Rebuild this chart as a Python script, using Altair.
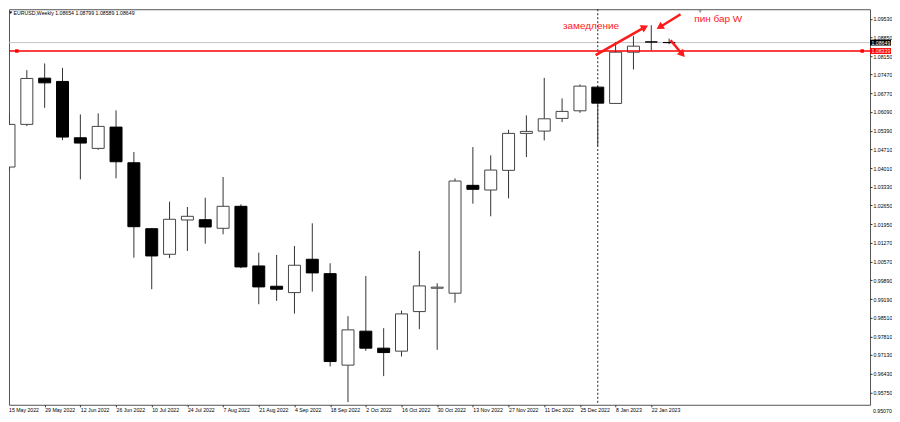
import json
import altair as alt
import pandas as pd

# ---- data ----
weeks = ["15 May 2022", "22 May 2022", "29 May 2022", "5 Jun 2022", "12 Jun 2022", "19 Jun 2022",
         "26 Jun 2022", "3 Jul 2022", "10 Jul 2022", "17 Jul 2022", "24 Jul 2022", "31 Jul 2022",
         "7 Aug 2022", "14 Aug 2022", "21 Aug 2022", "28 Aug 2022", "4 Sep 2022", "11 Sep 2022",
         "18 Sep 2022", "25 Sep 2022", "2 Oct 2022", "9 Oct 2022", "16 Oct 2022", "23 Oct 2022",
         "30 Oct 2022", "6 Nov 2022", "13 Nov 2022", "20 Nov 2022", "27 Nov 2022", "4 Dec 2022",
         "11 Dec 2022", "18 Dec 2022", "25 Dec 2022", "1 Jan 2023", "8 Jan 2023", "15 Jan 2023",
         "22 Jan 2023", "29 Jan 2023"]
opens = [1.04060, 1.05633, 1.07338, 1.07217, 1.05139, 1.04748, 1.05533, 1.04218, 1.01786, 1.00843,
         1.02107, 1.02118, 1.01801, 1.02612, 1.00412, 0.99664, 0.99429, 1.00659, 1.00129, 0.96754,
         0.98007, 0.97380, 0.97270, 0.98729, 0.99590, 0.99407, 1.03385, 1.03212, 1.03938, 1.05301,
         1.05386, 1.05854, 1.06134, 1.07007, 1.06406, 1.08296, 1.08676, 1.08654]
highs = [1.06060, 1.07633, 1.07880, 1.07718, 1.06001, 1.06038, 1.06148, 1.04612, 1.01812, 1.02781,
         1.02586, 1.02929, 1.03691, 1.02685, 1.00902, 1.00818, 1.01149, 1.01985, 1.00512, 0.98559,
         1.00044, 0.98117, 0.98765, 1.00965, 0.99775, 1.03643, 1.04796, 1.04491, 1.05434, 1.05964,
         1.07349, 1.06590, 1.07106, 1.07044, 1.08676, 1.08886, 1.09291, 1.08799]
lows = [1.03912, 1.05570, 1.06244, 1.05054, 1.03606, 1.04697, 1.03643, 1.00718, 0.99554, 1.00700,
        1.00965, 1.01234, 1.01580, 1.00328, 0.99001, 0.99123, 0.98655, 0.99466, 0.96703, 0.95391,
        0.97281, 0.96349, 0.97071, 0.98080, 0.97318, 0.99060, 1.02708, 1.02243, 1.02906, 1.04428,
        1.05043, 1.05717, 1.06060, 1.04833, 1.06400, 1.07659, 1.08359, 1.08589]
closes = [1.05633, 1.07327, 1.07165, 1.05165, 1.04944, 1.05559, 1.04255, 1.01860, 1.00781, 1.02133,
          1.02243, 1.01849, 1.02612, 1.00376, 0.99639, 0.99554, 1.00438, 1.00155, 0.96887, 0.98055,
          0.97380, 0.97218, 0.98644, 0.99675, 0.99630, 1.03544, 1.03238, 1.03949, 1.05301, 1.05375,
          1.05839, 1.06112, 1.07044, 1.06417, 1.08296, 1.08517, 1.08670, 1.08649]

x_labels = weeks[::2][:19]
price_ticks = [1.09530, 1.08850, 1.08150, 1.07470, 1.06770, 1.06090, 1.05390, 1.04710, 1.04010,
               1.03330, 1.02650, 1.01950, 1.01270, 1.00570, 0.99890, 0.99190, 0.98510, 0.97810,
               0.97130, 0.96430, 0.95750, 0.95070]

bid_price = 1.08649
level_price = 1.08339
separator_week = 33
header = "EURUSD,Weekly  1.08654 1.08799 1.08589 1.08649"

# annotations (week index / price)
arrow_x = [32.88, 37.64, 37.08]
arrow_y = [1.08186, 1.09696, 1.08738]
arrow_x2 = [35.64, 36.47, 37.74]
arrow_y2 = [1.09217, 1.09217, 1.08222]
arrow_angle = [61, 238, 139]
note_text = ["замедление", "пин бар W"]
note_x = [31.05, 38.41]
note_y = [1.09254, 1.09512]

df = pd.DataFrame({"i": list(range(len(weeks))), "week": weeks, "open": opens,
                   "high": highs, "low": lows, "close": closes})
arrows = pd.DataFrame({"x": arrow_x, "y": arrow_y, "x2": arrow_x2, "y2": arrow_y2, "angle": arrow_angle})
notes = pd.DataFrame({"x": note_x, "y": note_y, "t": note_text})
levels = pd.DataFrame({"p": [bid_price, level_price], "label": [f"{bid_price:.5f}", f"{level_price:.5f}"],
                       "bg": ["black", "red"], "fg": ["white", "#ffe6e6"]})

FONT = "Liberation Sans"
FS = 5.2
W, H = 862, 396
X_DOMAIN = [0.2806, 47.98]
XS = alt.Scale(domain=X_DOMAIN, nice=False, zero=False)
YS = alt.Scale(domain=[0.95292, 1.09880], nice=False, zero=False)
label_expr = json.dumps(x_labels) + "[round(datum.value / 2)]"
XAX = alt.Axis(values=list(range(2, 38, 2)), labelExpr=label_expr, title=None)
YAX = alt.Axis(values=price_ticks[:-1], format=".5f", title=None, orient="right")


def X(f):
    return alt.X(f, type="quantitative", scale=XS, axis=XAX)


def Y(f):
    return alt.Y(f, type="quantitative", scale=YS, axis=YAX)


base = alt.Chart(df)

wicks = base.mark_rule(color="#333", strokeWidth=1, clip=True).encode(x=X("i"), y=Y("low"), y2="high")
bodies = base.mark_bar(size=12, strokeWidth=1, clip=True).encode(
    x=X("i"), y=Y("open"), y2="close",
    fill=alt.condition("datum.close >= datum.open", alt.value("white"), alt.value("black")),
    stroke=alt.condition("datum.close >= datum.open", alt.value("#444"), alt.value("black")),
)

# first label (15 May 2022) sits on the partly hidden first candle
first_lbl = alt.Chart(pd.DataFrame({"t": [weeks[0]]})).mark_text(
    align="left", baseline="top", fontSize=FS, font=FONT, color="black").encode(
    x=alt.value(0), y=alt.value(H + 3), text="t")
# lowest price label sits just below the frame
low_lbl = alt.Chart(pd.DataFrame({"p": [price_ticks[-1]], "t": [f"{price_ticks[-1]:.5f}"]})).mark_text(
    align="left", baseline="middle", fontSize=FS, font=FONT, color="black").encode(
    x=alt.value(W + 3), y=Y("p"), text="t")

bid_line = alt.Chart(levels.iloc[[0]]).mark_rule(color="#c4c4c4", strokeWidth=1).encode(y=Y("p"))
red_line = alt.Chart(levels.iloc[[1]]).mark_rule(color="#ff0000", strokeWidth=1.5).encode(y=Y("p"))
red_handles = alt.Chart(pd.DataFrame({"x": [X_DOMAIN[0] + 0.16, X_DOMAIN[1] - 0.16], "p": [level_price] * 2})).mark_point(
    shape="square", filled=True, color="#ff0000", size=12, opacity=1).encode(x=X("x"), y=Y("p"))
sep = alt.Chart(pd.DataFrame({"i": [separator_week]})).mark_rule(
    color="#222", strokeWidth=1, strokeDash=[2, 2]).encode(x=X("i"))

arrow_lines = alt.Chart(arrows).mark_rule(color="#ff1a1a", strokeWidth=2.5).encode(
    x=X("x"), y=Y("y"), x2="x2", y2="y2")
arrow_heads = alt.Chart(arrows).mark_point(shape="triangle-up", filled=True, color="#ff1a1a", size=70, opacity=1).encode(
    x=X("x2"), y=Y("y2"), angle=alt.Angle("angle:Q", scale=None))
note_marks = alt.Chart(notes).mark_text(align="left", baseline="middle", color="#ff1a1a", fontSize=10, font=FONT).encode(
    x=X("x"), y=Y("y"), text="t")

head_txt = alt.Chart(pd.DataFrame({"t": [header]})).mark_text(
    align="left", baseline="middle", fontSize=FS, font=FONT, color="black").encode(
    x=alt.value(4.5), y=alt.value(3.5), text="t")
head_tri = alt.Chart(pd.DataFrame({"t": [header]})).mark_point(
    shape="triangle-down", filled=True, color="black", size=8, opacity=1).encode(x=alt.value(1.8), y=alt.value(3.5))
shift_tri = alt.Chart(pd.DataFrame({"t": [header]})).mark_point(
    shape="triangle-down", filled=True, color="#a0a0a0", size=14, opacity=1).encode(x=alt.value(692), y=alt.value(2.5))

boxes = alt.Chart(levels).mark_point(shape="M-1,-0.28H1V0.28H-1Z", filled=True, size=441, opacity=1).encode(
    x=alt.value(W + 10.5), y=Y("p"), color=alt.Color("bg:N", scale=None))
box_txt = alt.Chart(levels).mark_text(align="left", baseline="middle", fontSize=FS, font=FONT).encode(
    x=alt.value(W + 1.5), y=Y("p"), text="label", color=alt.Color("fg:N", scale=None))

chart = alt.layer(
    bid_line, sep, wicks, bodies, red_line, red_handles, arrow_lines, arrow_heads, note_marks,
    head_tri, head_txt, shift_tri, boxes, box_txt, first_lbl, low_lbl
).properties(
    width=W, height=H, padding=0, background="white"
).configure_view(
    stroke="#555", strokeWidth=1
).configure_axis(
    labelFont=FONT, labelFontSize=FS, labelColor="black", grid=False, domain=False,
    tickColor="#333", tickWidth=1
).configure_axisX(
    labelAlign="left", labelBaseline="top", labelPadding=1, tickSize=2, labelOverlap=False, labelFlush=False
).configure_axisY(
    tickSize=2, labelPadding=1, labelBaseline="middle"
)

chart.save("out.html", embed_options={"renderer": "svg", "actions": False})
